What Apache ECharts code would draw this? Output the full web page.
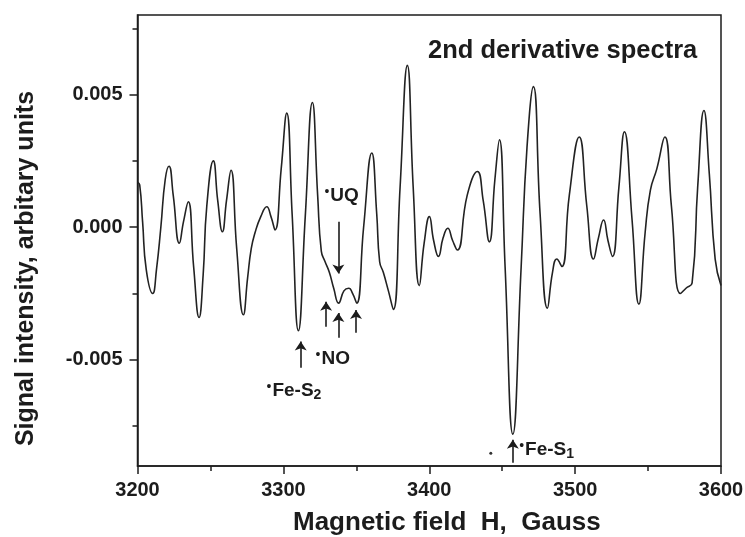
<!DOCTYPE html>
<html>
<head>
<meta charset="utf-8">
<script src="https://cdn.jsdelivr.net/npm/echarts@6/dist/echarts.min.js"></script>
<style>
html,body{margin:0;padding:0;background:#fff;}
#chart{width:745px;height:537px;}
</style>
</head>
<body>
<div id="chart"></div>
<script>
// Magnetic field (Gauss) sample positions
var FIELD = [
 3200, 3201.5, 3203.5, 3206, 3210.4, 3213, 3216, 3219, 3221.6, 3224.5,
 3228.7, 3231.5, 3234.8, 3238.5, 3242.2, 3245, 3247.5, 3252, 3255, 3258.2,
 3261, 3264.1, 3268, 3272.6, 3275.5, 3278, 3280.6, 3284.5, 3288.6, 3291.5,
 3294.3, 3298.5, 3302.3, 3306, 3310.3, 3315, 3319.9, 3323.5, 3326, 3328.6,
 3331.5, 3334.5, 3337.9, 3341.5, 3344.8, 3347.5, 3350.3, 3355, 3360.6, 3364,
 3366, 3368.5, 3372, 3375.4, 3380, 3385, 3389, 3393.2, 3396.5, 3400.1,
 3403, 3406.3, 3409.5, 3412.7, 3416, 3419.3, 3426, 3433, 3437, 3441.2,
 3445, 3448.1, 3452, 3457.3, 3463, 3467, 3471.4, 3476, 3481, 3484.5,
 3487.4, 3490.9, 3496, 3502.8, 3508, 3512.6, 3516, 3519.5, 3522.5, 3525.6,
 3530, 3533.8, 3539, 3543.7, 3548, 3551.6, 3556, 3561.5, 3566, 3572.2,
 3576, 3580.2, 3584, 3588.3, 3592, 3596, 3600
];
// 2nd derivative signal (arbitrary units)
var SIGNAL = [
 0.0017, 0.0016, 0.0002, -0.0016, -0.0025, -0.0016, 0.0000, 0.0018, 0.0023, 0.0012,
 -0.0006, 0.0002, 0.00096, -0.0015, -0.0034, -0.0018, 0.0008, 0.0025, 0.0010, -0.00017,
 0.0010, 0.00215, -0.0008, -0.0033, -0.0019, -0.0008, -0.0002, 0.0004, 0.00077, 0.0004,
 -0.0001, 0.0022, 0.0043, 0.0005, -0.0039, 0.0004, 0.0047, 0.0012, -0.0009, -0.0013,
 -0.0017, -0.0023, -0.00286, -0.0024, -0.0023, -0.0025, -0.00286, 0.0000, 0.0028, 0.0005,
 -0.0013, -0.0017, -0.0024, -0.0031, 0.0015, 0.0061, 0.0015, -0.0022, -0.0006, 0.0004,
 -0.0005, -0.0011, -0.0004, -0.00004, -0.0005, -0.00086, 0.0012, 0.0021, 0.0010, -0.00055,
 0.0018, 0.0033, -0.0015, -0.0078, -0.0015, 0.0030, 0.0053, 0.0005, -0.00305, -0.0017,
 -0.0012, -0.00148, 0.0012, 0.0034, 0.0008, -0.0012, -0.0004, 0.00027, -0.0005, -0.0011,
 0.0015, 0.0036, 0.0003, -0.0029, -0.0002, 0.0014, 0.0022, 0.0034, 0.0008, -0.0025,
 -0.0023, -0.0021, 0.0015, 0.0044, 0.0020, -0.0012, -0.0022
];
// axis ticks and labels
var X_MIN = 3200, X_MAX = 3600, X_STEP = 100;
var Y_MIN = -0.009, Y_MAX = 0.008;
var Y_LABELS = [-0.005, 0, 0.005];
var Y_MINOR = [-0.0075, -0.0025, 0.0025, 0.0075];
var TITLE = '2nd derivative spectra';
var X_NAME = 'Magnetic field  H,  Gauss';
var Y_NAME = 'Signal intensity, arbitary units';
// annotations in data coordinates
var ARROW_X    = [3311.9, 3329.3, 3337.7, 3349.8, 3337.7, 3457.3];
var ARROW_FROM = [-0.0053, -0.00375, -0.00417, -0.00398, 0.00021, -0.00888];
var ARROW_TO   = [-0.00431, -0.00281, -0.00323, -0.00312, -0.00174, -0.00801];
var NOTE_TEXT  = ['UQ', 'NO', 'Fe-S', 'Fe-S'];
var NOTE_SUB   = ['', '', '2', '1'];
var NOTE_X     = [3327.8, 3321.7, 3288.1, 3461.3];
var NOTE_Y     = [0.00118, -0.00496, -0.00617, -0.00839];
var SPECK = [3442.2, -0.00852];

var INK = '#1c1c1c';
var FONT = '"Liberation Sans", Arial, sans-serif';

var data = FIELD.map(function (h, i) { return [h, SIGNAL[i]]; });

var arrowLines = ARROW_X.map(function (x, i) {
  return [{ coord: [x, ARROW_FROM[i]] }, { coord: [x, ARROW_TO[i]] }];
});

var notes = NOTE_TEXT.map(function (t, i) {
  var f = '{d|•}{t|' + t + '}' + (NOTE_SUB[i] ? '{s|' + NOTE_SUB[i] + '}' : '');
  return {
    coord: [NOTE_X[i], NOTE_Y[i]],
    symbol: 'circle', symbolSize: 1,
    itemStyle: { color: 'rgba(0,0,0,0)' },
    label: {
      show: true, position: 'right', distance: 0, formatter: f,
      rich: {
        d: { fontSize: 14, lineHeight: 12, verticalAlign: 'top', color: INK, fontFamily: FONT, padding: [0, 1, 0, 0] },
        t: { fontSize: 19, lineHeight: 22, fontWeight: 'bold', color: INK, fontFamily: FONT },
        s: { fontSize: 14, lineHeight: 13, verticalAlign: 'bottom', fontWeight: 'bold', color: INK, fontFamily: FONT }
      }
    }
  };
});
notes.push({
  coord: SPECK, symbol: 'circle', symbolSize: 3,
  itemStyle: { color: '#333' }, label: { show: false }
});

var chart = echarts.init(document.getElementById('chart'), null, { renderer: 'canvas' });
chart.setOption({
  animation: false,
  backgroundColor: '#ffffff',
  grid: {
    left: 137.5, right: 24, top: 15, bottom: 71,
    show: true, borderColor: INK, borderWidth: 1.5,
    outerBoundsMode: 'none'
  },
  xAxis: {
    type: 'value', min: X_MIN, max: X_MAX, interval: X_STEP,
    axisLine: { show: true, onZero: false, lineStyle: { color: INK, width: 1.5 } },
    axisTick: { show: true, length: 8, lineStyle: { color: INK, width: 1.5 } },
    minorTick: { show: true, splitNumber: 2, length: 5, lineStyle: { color: INK, width: 1.5 } },
    axisLabel: {
      margin: 14, fontSize: 20, fontWeight: 'bold', color: INK, fontFamily: FONT,
      formatter: function (v) { return String(v); }
    },
    splitLine: { show: false }, minorSplitLine: { show: false }
  },
  yAxis: [{
    type: 'value', min: Y_MIN, max: Y_MAX, position: 'left',
    axisLine: { show: true, onZero: false, lineStyle: { color: INK, width: 1.5 } },
    axisTick: { show: true, length: 8, customValues: Y_LABELS, lineStyle: { color: INK, width: 1.5 } },
    axisLabel: {
      customValues: Y_LABELS, margin: 15, fontSize: 20, fontWeight: 'bold', color: INK, fontFamily: FONT,
      formatter: function (v) { return v.toFixed(3); }
    },
    splitLine: { show: false }
  }, {
    type: 'value', min: Y_MIN, max: Y_MAX, position: 'left', offset: 0,
    axisLine: { show: false },
    axisTick: { show: true, length: 5, customValues: Y_MINOR, lineStyle: { color: INK, width: 1.5 } },
    axisLabel: { show: false },
    splitLine: { show: false }
  }],
  graphic: [
    { type: 'text', left: 428, top: 38, style: { text: TITLE, fontSize: 25.5, fontWeight: 'bold', fill: INK, fontFamily: FONT } },
    { type: 'text', x: 293, y: 523, style: { text: X_NAME, fontSize: 26, fontWeight: 'bold', fill: INK, fontFamily: FONT, verticalAlign: 'middle', align: 'left' } },
    { type: 'text', x: 26, y: 268.5, rotation: Math.PI / 2, style: { text: Y_NAME, fontSize: 25, fontWeight: 'bold', fill: INK, fontFamily: FONT, verticalAlign: 'middle', align: 'center' } }
  ],
  series: [{
    type: 'line', data: data, showSymbol: false, smooth: 0.5,
    lineStyle: { color: '#222', width: 1.6 },
    markLine: {
      silent: true, symbol: ['none', 'arrow'], symbolSize: 9,
      label: { show: false },
      lineStyle: { color: INK, width: 1.6, type: 'solid' },
      emphasis: { disabled: true },
      data: arrowLines
    },
    markPoint: {
      silent: true,
      data: notes
    }
  }]
});
</script>
</body>
</html>
